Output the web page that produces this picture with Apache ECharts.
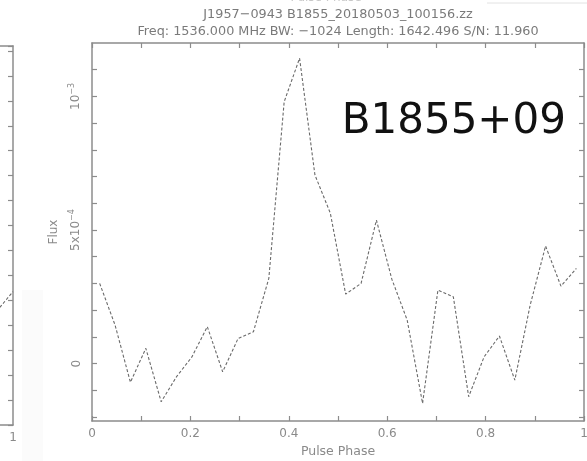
<!DOCTYPE html>
<html>
<head>
<meta charset="utf-8">
<script src="https://cdn.jsdelivr.net/npm/echarts@6/dist/echarts.min.js"></script>
<style>
html,body{margin:0;padding:0;background:#fff;}
#c{width:587px;height:461px;}
</style>
</head>
<body>
<div id="c"></div>
<script>
// Pulse phase bin centres (32 bins)
const phase = [0.0156,0.0469,0.0781,0.1094,0.1406,0.1719,0.2031,0.2344,0.2656,0.2969,0.3281,0.3594,0.3906,0.4219,0.4531,0.4844,0.5156,0.5469,0.5781,0.6094,0.6406,0.6719,0.7031,0.7344,0.7656,0.7969,0.8281,0.8594,0.8906,0.9219,0.9531,0.9844];
// Flux in units of 1e-4
const fluxE4 = [3.00,1.44,-0.70,0.57,-1.43,-0.49,0.25,1.38,-0.31,0.94,1.19,3.19,9.80,11.43,7.06,5.63,2.60,3.00,5.37,3.16,1.63,-1.49,2.75,2.50,-1.24,0.25,1.03,-0.62,2.19,4.40,2.90,3.56];
const xTickValues = [0,0.1,0.2,0.3,0.4,0.5,0.6,0.7,0.8,0.9,1];
const xLabelValues = [0,0.2,0.4,0.6,0.8,1];
const xLabelText = ['0','0.2','0.4','0.6','0.8','1'];
const yTickValues = [-2,-1,0,1,2,3,4,5,6,7,8,9,10,11];
const yLabelValues = [0,5,10];
const yLabelText = ['0','{b|5x10}{s|−4}','{b|10}{s|−3}'];
const titleLines = ['J1957−0943 B1855_20180503_100156.zz','Freq: 1536.000 MHz BW: −1024 Length: 1642.496 S/N: 11.960'];
// fragment of the neighbouring panel on the left edge
const leftX = [0.0,1.0];
const leftY = [4.1,5.35];

const chart = echarts.init(document.getElementById('c'));
const axCol = '#8c8c8c';
const txtCol = '#8a8a8a';
const font = 'DejaVu Sans';
function tickAxis(extra){
  return Object.assign({
    axisLine:{show:true,onZero:false,lineStyle:{color:axCol,width:1.5}},
    splitLine:{show:false}
  }, extra);
}
chart.setOption({
  animation:false,
  backgroundColor:'#fff',
  grid:[
    {left:92,top:43,width:492,height:378,outerBoundsMode:'none',containLabel:false},
    {left:-13,top:46,width:26,height:379,outerBoundsMode:'none',containLabel:false}
  ],
  xAxis:[
    tickAxis({type:'value',gridIndex:0,min:0,max:1,position:'bottom',
      axisTick:{inside:true,length:5,customValues:xTickValues,lineStyle:{color:axCol,width:1.2}},
      axisLabel:{customValues:xLabelValues,formatter:(v)=>xLabelText[xLabelValues.indexOf(v)]??'',color:txtCol,fontFamily:font,fontSize:12,margin:7},
      name:'Pulse Phase',nameLocation:'middle',nameGap:24,nameTextStyle:{color:txtCol,fontFamily:font,fontSize:12.5}}),
    tickAxis({type:'value',gridIndex:0,min:0,max:1,position:'top',
      axisTick:{inside:true,length:5,customValues:xTickValues,lineStyle:{color:axCol,width:1.2}},
      axisLabel:{show:false}}),
    tickAxis({type:'value',gridIndex:1,min:0,max:1,position:'bottom',
      axisTick:{show:false},axisLabel:{show:false}}),
    tickAxis({type:'value',gridIndex:1,min:0,max:1,position:'top',
      axisTick:{show:false},axisLabel:{show:false}})
  ],
  yAxis:[
    tickAxis({type:'value',gridIndex:0,min:-2.15,max:12.0,position:'left',
      axisTick:{inside:true,length:5,customValues:yTickValues,lineStyle:{color:axCol,width:1.2}},
      axisLabel:{customValues:yLabelValues,rotate:90,margin:9,color:txtCol,fontFamily:font,fontSize:12,
        formatter:(v)=>yLabelText[yLabelValues.indexOf(v)]??'',
        rich:{b:{color:txtCol,fontFamily:font,fontSize:12},s:{color:txtCol,fontFamily:font,fontSize:8,verticalAlign:'top',padding:[0,0,7,0]}}},
      name:'Flux',nameLocation:'middle',nameGap:32,nameRotate:90,nameTextStyle:{color:txtCol,fontFamily:font,fontSize:12}}),
    tickAxis({type:'value',gridIndex:0,min:-2.15,max:12.0,position:'right',
      axisTick:{inside:true,length:5,customValues:yTickValues,lineStyle:{color:axCol,width:1.2}},
      axisLabel:{show:false}}),
    tickAxis({type:'value',gridIndex:1,min:0,max:15.2,interval:1,position:'right',
      axisTick:{inside:true,length:5,lineStyle:{color:axCol,width:1.2}},
      axisLabel:{show:false}}),
  ],
  series:[
    {type:'line',xAxisIndex:0,yAxisIndex:0,data:phase.map((p,i)=>[p,fluxE4[i]]),
     symbol:'none',lineStyle:{color:'#6a6a6a',width:1.1,type:[3,2]}},
    {type:'line',xAxisIndex:2,yAxisIndex:2,data:leftX.map((p,i)=>[p,leftY[i]]),
     symbol:'none',lineStyle:{color:'#6a6a6a',width:1.1,type:[3,2]}}
  ],
  graphic:[
    {type:'rect',shape:{x:22,y:290,width:21,height:171},style:{fill:'#fbfbfb'},z:-10},
    {type:'line',shape:{x1:487,y1:3,x2:587,y2:3},style:{stroke:'#e2e2e2',lineWidth:1}},
    {type:'text',x:338,y:15,style:{text:titleLines[0],fill:'#7a7a7a',font:'12.8px "DejaVu Sans"',align:'center',verticalAlign:'middle'}},
    {type:'text',x:338,y:32,style:{text:titleLines[1],fill:'#7a7a7a',font:'12.8px "DejaVu Sans"',align:'center',verticalAlign:'middle'}},
    {type:'text',x:326,y:-2,style:{text:'Pulse Phase',fill:'#c8c8c8',font:'12px "DejaVu Sans"',align:'center',verticalAlign:'middle'}},
    {type:'text',x:13,y:438,style:{text:'1',fill:txtCol,font:'12px "DejaVu Sans"',align:'center',verticalAlign:'middle'}},
    {type:'text',x:566,y:122,style:{text:'B1855+09',fill:'#111',font:'42px "DejaVu Sans"',align:'right',verticalAlign:'middle'}}
  ]
});
</script>
</body>
</html>
